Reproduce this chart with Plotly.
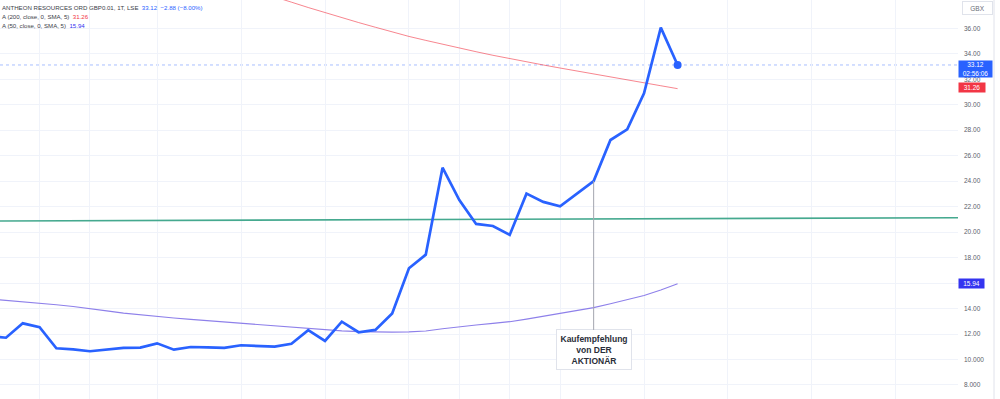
import plotly.graph_objects as go

# ---------------- data ----------------
bar_idx = list(range(-1, 41))
price = [11.85, 11.71, 12.84, 12.53, 10.88, 10.80, 10.65, 10.77, 10.91, 10.93,
         11.27, 10.77, 10.98, 10.96, 10.91, 11.12, 11.04, 11.01, 11.24, 12.30,
         11.46, 12.97, 12.14, 12.32, 13.61, 17.16, 18.23, 25.06, 22.52, 20.64,
         20.48, 19.78, 23.02, 22.37, 22.03, 23.00, 24.01, 27.23, 28.07, 30.90,
         36.05, 33.12]

sma50 = [14.75, 14.64, 14.55, 14.43, 14.30, 14.16, 14.01, 13.82, 13.64, 13.50,
         13.37, 13.26, 13.15, 13.05, 12.95, 12.84, 12.72, 12.60, 12.50, 12.40,
         12.32, 12.25, 12.19, 12.16, 12.15, 12.17, 12.24, 12.42, 12.58, 12.71,
         12.84, 12.97, 13.17, 13.40, 13.63, 13.85, 14.07, 14.38, 14.68, 15.03,
         15.45, 15.94]

sma200_idx = list(range(14, 41))
sma200 = [39.30, 38.90, 38.50, 38.05, 37.63, 37.22, 36.83, 36.45, 36.08, 35.71,
          35.36, 35.05, 34.74, 34.44, 34.16, 33.88, 33.61, 33.36, 33.12, 32.88,
          32.64, 32.41, 32.18, 31.95, 31.73, 31.49, 31.26]

trend_idx = [-0.36, 56.7]
trend_vals = [20.87, 21.13]

callout_idx = 35
callout_box_val = 10.75
callout_text = "Kaufempfehlung<br>von DER<br>AKTIONÄR"

x_grid = [2, 5, 9, 14, 19, 24, 27, 30, 33, 38, 43, 48, 53]
y_ticks = [8, 10, 12, 14, 16, 18, 20, 22, 24, 26, 28, 30, 32, 34, 36]
y_ticktext = ["8.000", "10.000", "12.00", "14.00", "16.00", "18.00", "20.00",
              "22.00", "24.00", "26.00", "28.00", "30.00", "32.00", "34.00", "36.00"]

last_price = price[-1]
last_sma200 = sma200[-1]
last_sma50 = sma50[-1]
change_txt = "−2.88 (−8.00%)"
clock_txt = "02:56:06"

BLUE = "#2962ff"
RED = "#f23645"
VIOLET = "#3434f0"
FONT = "Liberation Sans"
GRID = "#f0f3fa"

fig = go.Figure()

fig.add_trace(go.Scatter(x=trend_idx, y=trend_vals, mode="lines",
                         line=dict(color="#45a98f", width=1.6), hoverinfo="skip"))
fig.add_trace(go.Scatter(x=sma200_idx, y=sma200, mode="lines",
                         line=dict(color="rgba(242,54,69,0.6)", width=1), hoverinfo="skip"))
fig.add_trace(go.Scatter(x=bar_idx, y=sma50, mode="lines",
                         line=dict(color="#8e80ea", width=1.1), hoverinfo="skip"))
fig.add_trace(go.Scatter(x=bar_idx, y=price, mode="lines",
                         line=dict(color=BLUE, width=2.7), hoverinfo="skip"))
fig.add_trace(go.Scatter(x=[bar_idx[-1]], y=[last_price], mode="markers",
                         marker=dict(color=BLUE, size=8), hoverinfo="skip"))

# dotted last-price line
fig.add_shape(type="line", xref="paper", x0=0, x1=1, yref="y", y0=last_price, y1=last_price,
              line=dict(color="rgba(41,98,255,0.4)", width=1, dash="dot"), layer="below")
# right boundary line
fig.add_shape(type="line", xref="paper", x0=1.0376, x1=1.0376, yref="paper", y0=0, y1=1,
              line=dict(color="#e0e3eb", width=1))

ann = []
# callout
ann.append(dict(x=callout_idx, y=price[bar_idx.index(callout_idx)], xref="x", yref="y",
                ax=callout_idx, ay=callout_box_val, axref="x", ayref="y",
                text="<b>" + callout_text + "</b>", showarrow=True, arrowhead=0,
                arrowwidth=1, arrowcolor="#a3a6af", standoff=0,
                font=dict(family=FONT, size=8.5, color="#2a2e39"),
                bgcolor="white", bordercolor="#e0e3eb", borderwidth=1, borderpad=3.5,
                align="center"))
# price badges
ann.append(dict(x=1, xref="paper", xanchor="left", y=last_price, yref="y", yanchor="top",
                yshift=4.5, text=f"{last_price:.2f}<br>{clock_txt}", showarrow=False,
                bgcolor=BLUE, font=dict(family=FONT, size=6.5, color="white"),
                width=33, height=16, borderpad=0, align="center"))
ann.append(dict(x=1, xref="paper", xanchor="left", y=last_sma200, yref="y", yanchor="middle",
                yshift=1, text=f"{last_sma200:.2f}", showarrow=False, bgcolor=RED,
                font=dict(family=FONT, size=6.5, color="white"),
                width=26, height=8.5, borderpad=0, align="center"))
ann.append(dict(x=1, xref="paper", xanchor="left", y=last_sma50, yref="y", yanchor="middle",
                yshift=0, text=f"{last_sma50:.2f}", showarrow=False, bgcolor=VIOLET,
                font=dict(family=FONT, size=6.5, color="white"),
                width=25, height=8.7, borderpad=0, align="center"))
# GBX box
ann.append(dict(x=1, xref="paper", xanchor="left", xshift=4, y=1, yref="paper", yanchor="top",
                yshift=-1, text="GBX", showarrow=False,
                font=dict(family=FONT, size=6.5, color="#6a6d78"),
                bordercolor="#e0e3eb", borderwidth=1, borderpad=1.5, width=26, height=9,
                bgcolor="white"))
# legend lines
legend_lines = [
    (f"ANTHEON RESOURCES ORD GBP0.01, 1T, LSE  <span style='color:{BLUE}'>{last_price:.2f}"
     f"  {change_txt}</span>", -1.5),
    (f"A (200, close, 0, SMA, 5)  <span style='color:{RED}'>{last_sma200:.2f}</span>", -10.5),
    (f"A (50, close, 0, SMA, 5)  <span style='color:{VIOLET}'>{last_sma50:.2f}</span>", -20),
]
for txt, ys in legend_lines:
    ann.append(dict(x=0, xref="paper", xanchor="left", y=1, yref="paper", yanchor="top",
                    yshift=ys, text=txt, showarrow=False,
                    font=dict(family=FONT, size=6.1, color="#3b3e48")))

fig.update_layout(
    width=1000, height=399,
    margin=dict(l=0, r=42, t=0, b=0),
    paper_bgcolor="white", plot_bgcolor="white",
    showlegend=False,
    annotations=ann,
    xaxis=dict(range=[-0.357, 56.7], tickvals=x_grid, showticklabels=False,
               showgrid=True, gridcolor=GRID, gridwidth=1, zeroline=False,
               showline=False, ticks=""),
    yaxis=dict(range=[6.90, 38.22], side="right", tickvals=y_ticks, ticktext=y_ticktext,
               showgrid=True, gridcolor=GRID, gridwidth=1, zeroline=False,
               showline=False, ticks="", ticklabelstandoff=5,
               tickfont=dict(family=FONT, size=6.5, color="#5d606b")),
)

fig.write_html("out.html")
